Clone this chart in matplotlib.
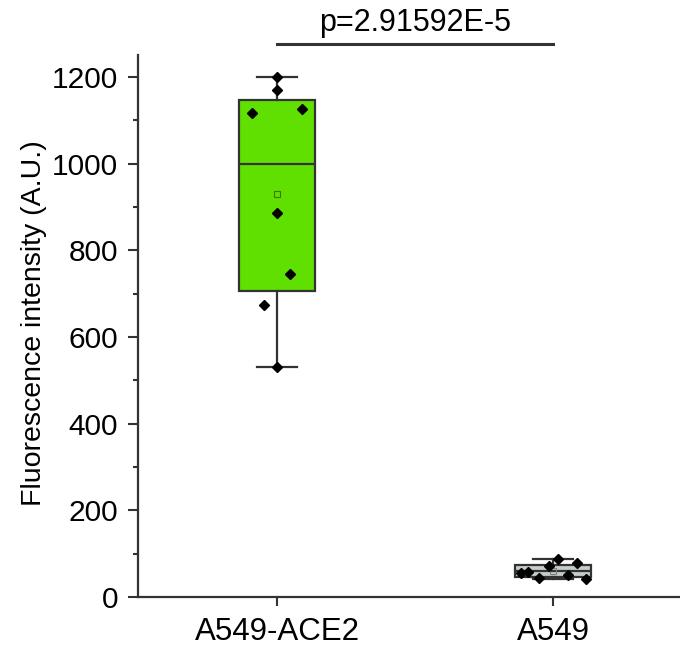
import numpy as np
import matplotlib
matplotlib.use('Agg')
import matplotlib.pyplot as plt
from matplotlib.ticker import MultipleLocator

plt.rcParams['font.family'] = ['Liberation Sans', 'DejaVu Sans']

groups = ['A549-ACE2', 'A549']
positions = [1, 2]

ace2_vals = [1200, 1170, 1117, 1127, 885, 746, 673, 530]
ace2_jitter = [0.0, 0.0, -0.09, 0.09, 0.0, 0.045, -0.047, 0.0]
a549_vals = [88, 78, 71, 58, 55, 44, 51, 42]
a549_jitter = [0.018, 0.087, -0.015, -0.09, -0.116, -0.05, 0.054, 0.12]

# box statistics as drawn in the original (Origin style quartiles)
box_q1 = [707, 47]
box_med = [1000, 60]
box_q3 = [1147, 73]
box_lo = [530, 42]
box_hi = [1200, 88]

box_colors = ['#5fe000', '#c4cccc']
mean_colors = ['#3a7a00', '#7a8080']
p_text = 'p=2.91592E-5'

all_vals = [ace2_vals, a549_vals]
all_jit = [ace2_jitter, a549_jitter]

fig = plt.figure(figsize=(6.8, 6.48), dpi=100)
ax = fig.add_axes([0.203, 0.0787, 0.797, 0.836])

stats = []
for i in range(2):
    stats.append(dict(med=box_med[i], q1=box_q1[i], q3=box_q3[i],
                      whislo=box_lo[i], whishi=box_hi[i],
                      mean=np.mean(all_vals[i]), fliers=[], label=groups[i]))

edge = '#333333'
bp = ax.bxp(stats, positions=positions, widths=0.275, patch_artist=True,
            showmeans=True, showfliers=False,
            boxprops=dict(edgecolor=edge, linewidth=1.6),
            medianprops=dict(color=edge, linewidth=1.6),
            whiskerprops=dict(color=edge, linewidth=1.6),
            capprops=dict(color=edge, linewidth=1.6),
            meanprops=dict(marker='s', markerfacecolor='none',
                           markersize=4.5, markeredgewidth=0.8))
for cap in bp['caps']:
    c = cap.get_xdata().mean()
    cap.set_xdata([c - 0.0725, c + 0.0725])
for patch, col in zip(bp['boxes'], box_colors):
    patch.set_facecolor(col)
for m, col in zip(bp['means'], mean_colors):
    m.set_markeredgecolor(col)

for i in range(2):
    xs = positions[i] + np.array(all_jit[i])
    ax.plot(xs, all_vals[i], 'D', color='black', markersize=5.5, zorder=5,
            clip_on=False)

# significance bar
ax.plot(positions, [1276, 1276], color=edge, linewidth=2.2, clip_on=False)
ax.text(np.mean(positions), 1290, p_text, ha='center', va='bottom',
        fontsize=22)

ax.set_xlim(0.496, 2.46)
ax.set_ylim(0, 1250)
ax.set_xticks(positions)
ax.set_xticklabels(groups)
ax.yaxis.set_major_locator(MultipleLocator(200))
ax.yaxis.set_minor_locator(MultipleLocator(100))
ax.spines['top'].set_visible(False)
ax.spines['right'].set_visible(False)
for s in ['left', 'bottom']:
    ax.spines[s].set_linewidth(1.6)
    ax.spines[s].set_color(edge)
ax.tick_params(axis='y', which='major', length=7.5, width=1.5, color=edge,
               labelsize=21.5, pad=7)
ax.tick_params(axis='y', which='minor', length=3.6, width=1.5, color=edge)
ax.tick_params(axis='x', which='major', length=6.5, width=1.5, color=edge,
               labelsize=22.5, pad=8)
ax.set_ylabel('Fluorescence intensity (A.U.)', fontsize=20.5)
ax.yaxis.set_label_coords(-0.168, 0.505)

fig.savefig('out.png', dpi=100)
